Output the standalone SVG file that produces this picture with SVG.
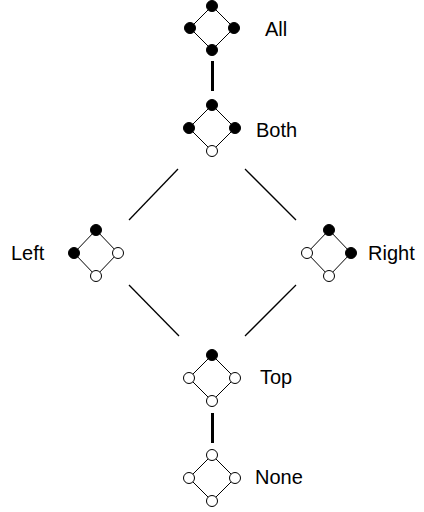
<svg xmlns="http://www.w3.org/2000/svg" width="424" height="512" viewBox="0 0 424 512">
  <defs>
    <style>
      .edge { stroke: #000; stroke-width: 1; fill: none; }
      .on { fill: #000; stroke: #000; stroke-width: 1; }
      .off { fill: #fff; stroke: #000; stroke-width: 1; }
      .label { font-family: "Liberation Sans", Arial, sans-serif; font-size: 20px; fill: #000; }
      .thin { stroke: #000; stroke-width: 1.3; }
      .thick { stroke: #000; stroke-width: 3; }
    </style>
  </defs>
  <rect width="424" height="512" fill="#fff"/>

  <!-- connectors between lattice elements -->
  <g id="connectors">
    <line class="thick" x1="212.5" y1="61" x2="212.5" y2="91"/>
    <line class="thin" x1="178" y1="169" x2="129" y2="220"/>
    <line class="thin" x1="245" y1="169" x2="296" y2="220"/>
    <line class="thin" x1="129" y1="285" x2="179" y2="336"/>
    <line class="thin" x1="296" y1="285" x2="245" y2="336"/>
    <line class="thick" x1="212.5" y1="413" x2="212.5" y2="443"/>
  </g>

  <g id="all">
    <path class="edge" d="M212 6 L190 28 L212 50 L234 28 Z"/>
    <circle class="on" cx="212" cy="6" r="5.5"/>
    <circle class="on" cx="190" cy="28" r="5.5"/>
    <circle class="on" cx="234" cy="28" r="5.5"/>
    <circle class="on" cx="212" cy="50" r="5.5"/>
    <text class="label" x="265" y="36">All</text>
  </g>

  <g id="both">
    <path class="edge" d="M212 105 L189 128 L212 151 L235 128 Z"/>
    <circle class="on" cx="212" cy="105" r="5.5"/>
    <circle class="on" cx="189" cy="128" r="5.5"/>
    <circle class="on" cx="235" cy="128" r="5.5"/>
    <circle class="off" cx="212" cy="151" r="5.5"/>
    <text class="label" x="256" y="137">Both</text>
  </g>

  <g id="left">
    <path class="edge" d="M96 230 L74 253 L96 276 L118 253 Z"/>
    <circle class="on" cx="96" cy="230" r="5.5"/>
    <circle class="on" cx="74" cy="253" r="5.5"/>
    <circle class="off" cx="118" cy="253" r="5.5"/>
    <circle class="off" cx="96" cy="276" r="5.5"/>
    <text class="label" x="11" y="260">Left</text>
  </g>

  <g id="right">
    <path class="edge" d="M329 230 L307 253 L329 276 L351 253 Z"/>
    <circle class="on" cx="329" cy="230" r="5.5"/>
    <circle class="off" cx="307" cy="253" r="5.5"/>
    <circle class="on" cx="351" cy="253" r="5.5"/>
    <circle class="off" cx="329" cy="276" r="5.5"/>
    <text class="label" x="368" y="260">Right</text>
  </g>

  <g id="top">
    <path class="edge" d="M212 355 L189 378 L212 401 L235 378 Z"/>
    <circle class="on" cx="212" cy="355" r="5.5"/>
    <circle class="off" cx="189" cy="378" r="5.5"/>
    <circle class="off" cx="235" cy="378" r="5.5"/>
    <circle class="off" cx="212" cy="401" r="5.5"/>
    <text class="label" x="260" y="384">Top</text>
  </g>

  <g id="none">
    <path class="edge" d="M212 455 L189 478 L212 501 L235 478 Z"/>
    <circle class="off" cx="212" cy="455" r="5.5"/>
    <circle class="off" cx="189" cy="478" r="5.5"/>
    <circle class="off" cx="235" cy="478" r="5.5"/>
    <circle class="off" cx="212" cy="501" r="5.5"/>
    <text class="label" x="255" y="484">None</text>
  </g>
</svg>
